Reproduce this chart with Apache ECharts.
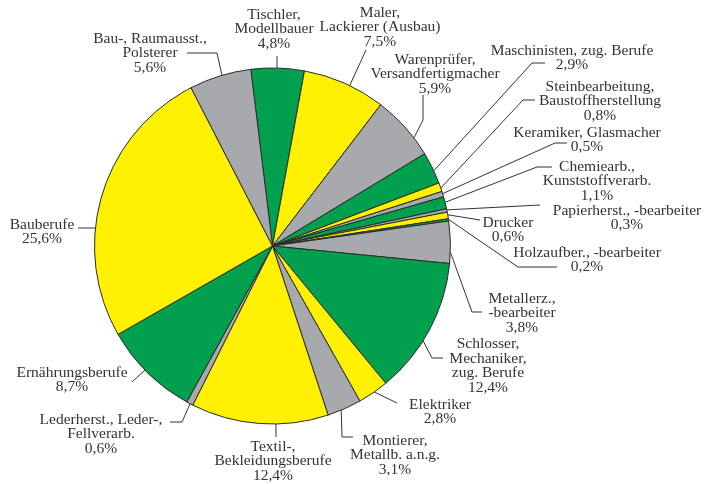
<!DOCTYPE html>
<html>
<head>
<meta charset="utf-8">
<script src="https://cdn.jsdelivr.net/npm/echarts@6/dist/echarts.min.js"></script>
<style>
  html, body { margin: 0; padding: 0; background: #fff; }
  #chart { width: 715px; height: 484px; }
</style>
</head>
<body>
<div id="chart"></div>
<script>
// Berufsgruppen, im Uhrzeigersinn ab Tischler
const categories = [
  'Tischler,\nModellbauer',
  'Maler,\nLackierer (Ausbau)',
  'Warenprüfer,\nVersandfertigmacher',
  'Maschinisten, zug. Berufe',
  'Steinbearbeitung,\nBaustoffherstellung',
  'Keramiker, Glasmacher',
  'Chemiearb.,\nKunststoffverarb.',
  'Papierherst., -bearbeiter',
  'Drucker',
  'Holzaufber., -bearbeiter',
  'Metallerz.,\n-bearbeiter',
  'Schlosser,\nMechaniker,\nzug. Berufe',
  'Elektriker',
  'Montierer,\nMetallb. a.n.g.',
  'Textil-,\nBekleidungsberufe',
  'Lederherst., Leder-,\nFellverarb.',
  'Ernährungsberufe',
  'Bauberufe',
  'Bau-, Raumausst.,\nPolsterer'
]
const shares = [4.8, 7.5, 5.9, 2.9, 0.8, 0.5, 1.1, 0.3, 0.6, 0.2, 3.8, 12.4, 2.8, 3.1, 12.4, 0.6, 8.7, 25.6, 5.6]

const GREEN = '#00a04f'
const YELLOW = '#fff100'
const GRAY = '#a7a9ac'
const sliceColors = [GREEN, YELLOW, GRAY, GREEN, YELLOW, GRAY, GREEN, GRAY, YELLOW, GREEN,
  GRAY, GREEN, YELLOW, GRAY, YELLOW, GRAY, GREEN, YELLOW, GRAY]

// Beschriftung: Mittelpunkt des Textblocks, Ansatzwinkel der Linie, Knick-/Endpunkte
const CX = 272.5, CY = 246, R = 178
const labelPos = [
  [274, 29], [380, 27], [435, 74], [572, 58], [600, 101], [587, 140], [597, 181],
  [627, 218], [508, 230], [587, 260], [522, 313], [488, 366], [440, 412], [395, 455],
  [273, 461], [101, 434], [72, 380], [42, 232], [150, 53]
]
const anchorAngle = [1.5, 25.7, 52.6, 65, 71, 72.9, 75.8, 78.3, 79.9, 81.4, 92, 122.2,
  145.1, 157.3, 178.9, 207.6, 225.8, 275.8, 343.5]
const guidePoints = [
  [[277, 62], [277, 56]],
  [[366, 50], [366, 50]],
  [[423, 120], [423, 95]],
  [[532, 63], [545, 63]],
  [[523, 100], [535, 100]],
  [[555, 143], [567, 143]],
  [[537, 167], [552, 167]],
  [[540, 205], [540, 205]],
  [[480, 220], [480, 220]],
  [[518, 267], [557, 267]],
  [[472, 312], [482, 312]],
  [[432, 358], [443, 358]],
  [[397, 403], [397, 403]],
  [[342, 437], [353, 437]],
  [[276, 437], [276, 437]],
  [[182, 422], [170, 422]],
  [[132, 382], [132, 382]],
  [[78, 228], [78, 228]],
  [[217, 53], [187, 53]]
]

const chart = echarts.init(document.getElementById('chart'))

chart.setOption({
  backgroundColor: '#fff',
  animation: false,
  series: [{
    type: 'pie',
    center: [CX, CY],
    radius: R,
    startAngle: 97,
    clockwise: true,
    avoidLabelOverlap: false,
    data: categories.map((name, i) => ({
      name,
      value: shares[i],
      itemStyle: { color: sliceColors[i] }
    })),
    itemStyle: { borderColor: '#2b2b2b', borderWidth: 1 },
    label: {
      show: true,
      alignTo: 'none',
      fontFamily: 'Liberation Serif',
      fontSize: 15.5,
      lineHeight: 14.5,
      color: '#333',
      formatter: p => p.name + '\n' + p.value.toFixed(1).replace('.', ',') + '%'
    },
    labelLine: {
      show: true,
      smooth: false,
      lineStyle: { color: '#333', width: 1 }
    },
    labelLayout: params => {
      const i = params.dataIndex
      const a = anchorAngle[i] * Math.PI / 180
      const start = [CX + R * Math.sin(a), CY - R * Math.cos(a)]
      return {
        x: labelPos[i][0],
        y: labelPos[i][1],
        align: 'center',
        verticalAlign: 'middle',
        labelLinePoints: [start, guidePoints[i][0], guidePoints[i][1]]
      }
    }
  }]
})
</script>
</body>
</html>
